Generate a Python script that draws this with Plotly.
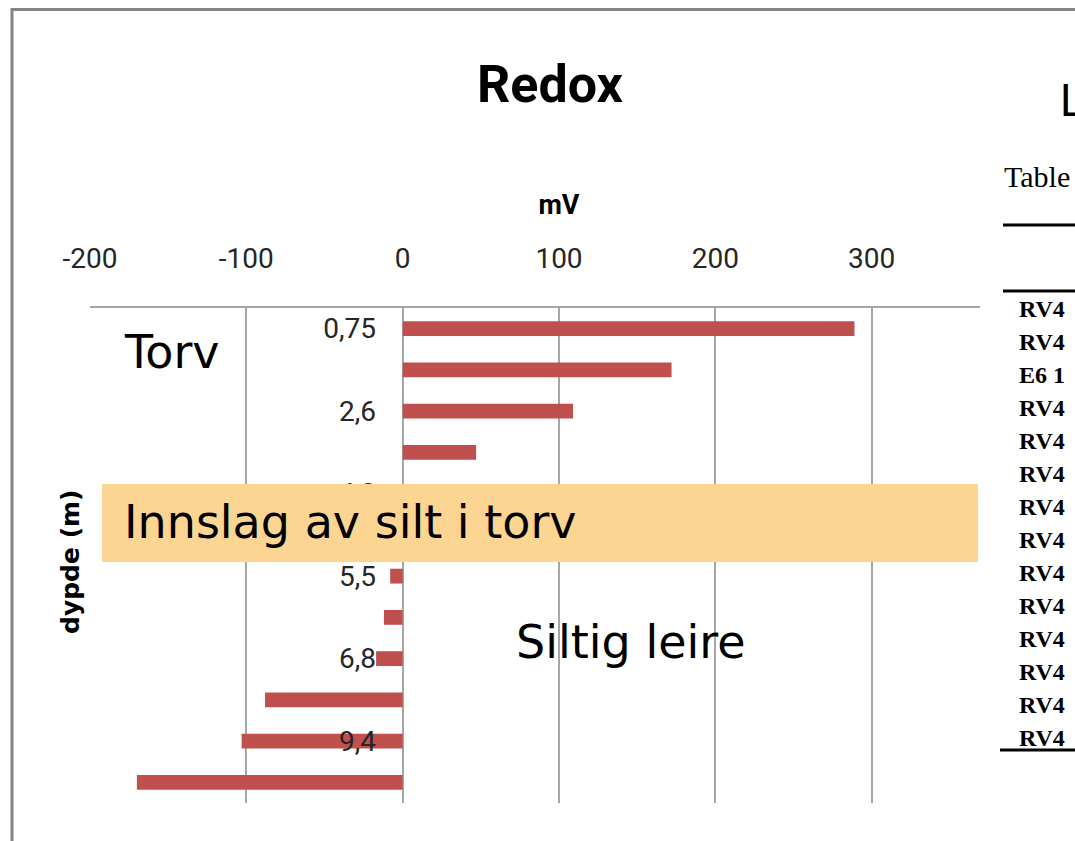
import plotly.graph_objects as go

W, H = 1075, 841

# Redox potential (mV) per sampling depth (m)
depth = ["0,75", "1,8", "2,6", "3,4", "4,0", "4,9", "5,5", "6,2", "6,8", "8,1", "9,4", "10,7"]
redox_mv = [289, 172, 109, 47, 22, 6, -8, -12, -17, -88, -103, -170]
shown_depths = depth[::2]
x_ticks = [-200, -100, 0, 100, 200, 300, 400]
x_tick_text = [str(v) for v in x_ticks]

# Neighbouring table (partially visible)
table_rows = ["RV4", "RV4", "E6 1"] + ["RV4"] * 11

NARROW = "Roboto, Liberation Sans, sans-serif"
SANS = "DejaVu Sans, Verdana, sans-serif"
SERIF = "Liberation Serif, Times New Roman, serif"
GRID = "#A6A6A6"


def px(x):
    return x / W


def py(y):
    return 1 - y / H


fig = go.Figure(
    go.Bar(
        x=redox_mv,
        y=depth,
        orientation="h",
        marker=dict(color="#C0504D", line=dict(width=0)),
        hoverinfo="x+y",
    )
)

fig.update_layout(
    width=W,
    height=H,
    margin=dict(l=0, r=0, t=0, b=0, autoexpand=False),
    paper_bgcolor="white",
    plot_bgcolor="white",
    showlegend=False,
    bargap=0.64,
    title=dict(
        text="Redox",
        x=px(550), y=py(84), xanchor="center", yanchor="middle",
        font=dict(family=NARROW, size=52, color="#000000", weight="bold"),
    ),
    xaxis=dict(
        range=[-200, 400],
        domain=[px(90), px(1028)],
        side="top",
        automargin=False,
        tickvals=x_ticks,
        ticktext=x_tick_text,
        ticks="",
        ticklabelstandoff=27,
        tickfont=dict(family=NARROW, size=28, color="#262626"),
        showgrid=True, gridcolor=GRID, gridwidth=1.5,
        zeroline=False,
        showline=True, linecolor=GRID, linewidth=1.5,
        title=dict(text="mV", standoff=20,
                   font=dict(family=NARROW, size=27, color="#000000", weight="bold")),
    ),
    yaxis=dict(
        type="category",
        categoryorder="array",
        categoryarray=depth,
        autorange="reversed",
        domain=[py(803), py(308)],
        anchor="free",
        position=px(402),
        automargin=False,
        tickvals=shown_depths,
        ticks="",
        ticklabelstandoff=26,
        tickfont=dict(family=NARROW, size=28, color="#262626"),
        showgrid=False, zeroline=False, showline=False,
    ),
)

shapes = []
annotations = []

# Soil layer band
shapes.append(dict(type="rect", xref="paper", yref="paper",
                   x0=px(102), x1=px(978), y0=py(562), y1=py(484),
                   fillcolor="#FDD592", line=dict(width=0), layer="above"))

# Table area overlapping the right edge of the chart
shapes.append(dict(type="rect", xref="paper", yref="paper",
                   x0=px(980), x1=px(1080), y0=py(775), y1=py(12),
                   fillcolor="white", line=dict(width=0), layer="above"))
for yy, x0 in [(225, 1003), (291, 1003), (750, 1000)]:
    shapes.append(dict(type="line", xref="paper", yref="paper",
                       x0=px(x0), x1=px(1080), y0=py(yy), y1=py(yy),
                       line=dict(color="#000000", width=3), layer="above"))

# Outer frame
shapes.append(dict(type="path", xref="paper", yref="paper",
                   path=f"M {px(12)},{py(845)} L {px(12)},{py(9.5)} L {px(1080)},{py(9.5)}",
                   line=dict(color="#858585", width=3), layer="above"))

fig.update_layout(shapes=shapes)

# Axis title for depth
annotations.append(dict(text="dypde (m)", xref="paper", yref="paper",
                        x=px(70), y=py(562), textangle=-90, showarrow=False,
                        xanchor="center", yanchor="middle",
                        font=dict(family=SANS, size=25, color="#000000", weight="bold")))

# Soil layer labels
for text, x, y in [("Torv", 122, 352), ("Innslag av silt i torv", 122, 522), ("Siltig leire", 514, 642)]:
    annotations.append(dict(text=text, xref="paper", yref="paper", x=px(x), y=py(y),
                            xanchor="left", yanchor="middle", showarrow=False,
                            font=dict(family=SANS, size=46, color="#000000")))

# Table text
annotations.append(dict(text="L", xref="paper", yref="paper", x=px(1058), y=py(101),
                        xanchor="left", yanchor="middle", showarrow=False,
                        font=dict(family=NARROW, size=44, color="#000000")))
annotations.append(dict(text="Table", xref="paper", yref="paper", x=px(1002), y=py(176),
                        xanchor="left", yanchor="middle", showarrow=False,
                        font=dict(family=SERIF, size=30, color="#000000")))
for i, row in enumerate(table_rows):
    annotations.append(dict(text=row, xref="paper", yref="paper", x=px(1017), y=py(309 + i * 33),
                            xanchor="left", yanchor="middle", showarrow=False,
                            font=dict(family=SERIF, size=24, color="#000000", weight="bold")))

fig.update_layout(annotations=annotations)

fig.write_html("out.html")
